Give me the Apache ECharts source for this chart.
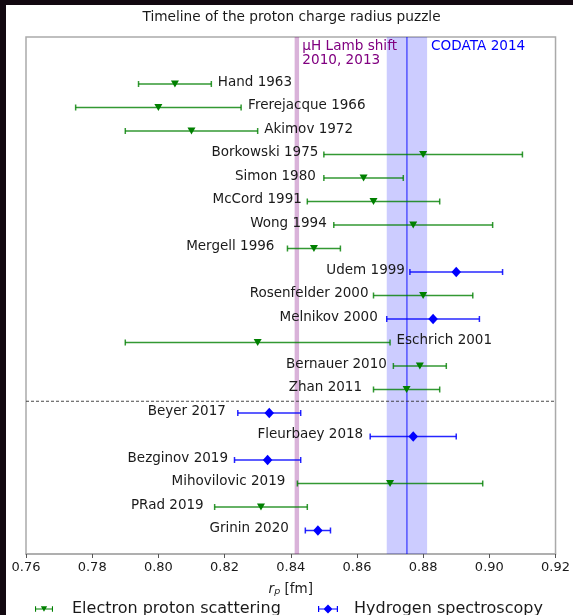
<!DOCTYPE html>
<html>
<head>
<meta charset="utf-8">
<script src="https://cdn.jsdelivr.net/npm/echarts@6/dist/echarts.min.js"></script>
<style>
  html, body { margin: 0; padding: 0; width: 573px; height: 615px; background: #120810; overflow: hidden; }
  #chart { position: absolute; left: 6px; top: 5px; width: 567px; height: 610px; }
</style>
</head>
<body>
<div id="chart"></div>
<script>
// ---- data (top to bottom) ----
const experiments = [
  'Hand 1963', 'Frerejacque 1966', 'Akimov 1972', 'Borkowski 1975', 'Simon 1980',
  'McCord 1991', 'Wong 1994', 'Mergell 1996', 'Udem 1999', 'Rosenfelder 2000',
  'Melnikov 2000', 'Eschrich 2001', 'Bernauer 2010', 'Zhan 2011', 'Beyer 2017',
  'Fleurbaey 2018', 'Bezginov 2019', 'Mihovilovic 2019', 'PRad 2019', 'Grinin 2020'
];
const radius = [
  0.805, 0.800, 0.810, 0.880, 0.862,
  0.865, 0.877, 0.847, 0.890, 0.880,
  0.883, 0.830, 0.879, 0.875, 0.8335,
  0.877, 0.833, 0.870, 0.831, 0.8482
];
const uncertainty = [
  0.011, 0.025, 0.020, 0.030, 0.012,
  0.020, 0.024, 0.008, 0.014, 0.015,
  0.014, 0.040, 0.008, 0.010, 0.0095,
  0.013, 0.010, 0.028, 0.014, 0.0038
];
const method = [
  'e', 'e', 'e', 'e', 'e',
  'e', 'e', 'e', 'h', 'e',
  'h', 'e', 'e', 'e', 'h',
  'h', 'h', 'e', 'e', 'h'
];
const seriesNames = { e: 'Electron proton scattering', h: 'Hydrogen spectroscopy' };
const muonic = { value: 0.84184, err: 0.00067, label: 'μH Lamb shift\n2010, 2013' };
const codata = { value: 0.8751, err: 0.0061, label: 'CODATA 2014' };
const dividerAfter = 'Zhan 2011';
const xTicks = { min: 0.76, max: 0.92, step: 0.02 };

// ---- label styling (not data) ----
const labelSide = [
  'right', 'right', 'right', 'left', 'left',
  'left', 'left', 'left', 'left', 'left',
  'left', 'right', 'left', 'left', 'left',
  'left', 'left', 'left', 'left', 'left'
];
const labelGap = [
  6.5, 7, 6.5, 5.5, 8,
  5.5, 7, 13, 5, 5,
  9, 6.5, 6.5, 11.5, 12,
  7, 6.5, 12, 11, 16.5
];

const N = experiments.length;
const rowOf = i => N - 1 - i;
const dividerRow = rowOf(experiments.indexOf(dividerAfter)) - 0.5;

const colors = { e: '#008000', h: '#0000ff' };
const barColors = { e: 'rgba(0,128,0,0.8)', h: 'rgba(0,0,255,0.85)' };
const TRI = 'path://M0,0L10,0L5,9Z';
const DIA = 'path://M5,0L10,5L5,10L0,5Z';
const FONT = 'DejaVu Sans';

function groupData(m) {
  const out = [];
  for (let i = 0; i < N; i++) if (method[i] === m) out.push([radius[i], rowOf(i), uncertainty[i], i]);
  return out;
}

function errRender(m) {
  return function (params, api) {
    const v = api.value(0), r = api.value(1), e = api.value(2), i = api.value(3);
    const pL = api.coord([v - e, r]);
    const pR = api.coord([v + e, r]);
    const cap = 3;
    const st = { stroke: barColors[m], lineWidth: 1.5 };
    const side = labelSide[i];
    const tx = side === 'left' ? pL[0] - labelGap[i] : pR[0] + labelGap[i];
    return {
      type: 'group',
      children: [
        { type: 'line', shape: { x1: pL[0], y1: pL[1], x2: pR[0], y2: pR[1] }, style: st },
        { type: 'line', shape: { x1: pL[0], y1: pL[1] - cap, x2: pL[0], y2: pL[1] + cap }, style: st },
        { type: 'line', shape: { x1: pR[0], y1: pR[1] - cap, x2: pR[0], y2: pR[1] + cap }, style: st },
        { type: 'text', x: tx, y: pL[1] - 2, style: {
            text: experiments[i], fill: '#1a1a1a', font: '13.5px "' + FONT + '"',
            align: side === 'left' ? 'right' : 'left', verticalAlign: 'middle' } }
      ]
    };
  };
}

const chart = echarts.init(document.getElementById('chart'), null, { renderer: 'canvas' });

const series = [];

// reference bands, CODATA line, divider, annotations
series.push({
  name: 'references', type: 'custom', silent: true, z: 1, clip: false,
  data: [[muonic.value, muonic.err, 0], [codata.value, codata.err, 1], [xTicks.min, dividerRow, 2]],
  encode: { x: 0 },
  renderItem: function (params, api) {
    const cs = params.coordSys;
    const k = api.value(2);
    if (k === 2) {
      const y = api.coord([xTicks.min, api.value(1)])[1];
      return { type: 'line', shape: { x1: cs.x, y1: y, x2: cs.x + cs.width, y2: y },
        style: { stroke: '#333', lineWidth: 0.9, lineDash: [3, 2] } };
    }
    const v = api.value(0), e = api.value(1);
    const x0 = api.coord([v - e, 0])[0], x1 = api.coord([v + e, 0])[0], xc = api.coord([v, 0])[0];
    const children = [
      { type: 'rect', shape: { x: x0, y: cs.y, width: x1 - x0, height: cs.height },
        style: { fill: k === 0 ? 'rgba(128,0,128,0.3)' : 'rgba(0,0,255,0.2)' } }
    ];
    if (k === 1) {
      children.push({ type: 'line', shape: { x1: xc, y1: cs.y, x2: xc, y2: cs.y + cs.height },
        style: { stroke: 'rgba(0,0,255,0.75)', lineWidth: 1.2 } });
    }
    children.push({ type: 'text', z2: 50, x: x1 + (k === 0 ? 3.3 : 4), y: cs.y + 2, style: {
      text: k === 0 ? muonic.label : codata.label, fill: k === 0 ? '#800080' : '#0000ff',
      font: '13.6px "' + FONT + '"', align: 'left', verticalAlign: 'top', lineHeight: 14 } });
    return { type: 'group', children: children };
  }
});

['e', 'h'].forEach(m => {
  series.push({
    name: seriesNames[m], type: 'custom', renderItem: errRender(m),
    data: groupData(m), encode: { x: 0, y: 1 }, z: 3,
    itemStyle: { color: colors[m] }, silent: true, clip: false
  });
  series.push({
    name: seriesNames[m], type: 'scatter', data: groupData(m).map(d => [d[0], d[1]]),
    symbol: m === 'e' ? TRI : DIA, symbolSize: m === 'e' ? [8, 7] : [9.5, 10.5],
    itemStyle: { color: colors[m], opacity: 1 }, z: 4, silent: true
  });
});

const legendIconE = 'path://M0,2L1.2,2L1.2,8L0,8ZM18.8,2L20,2L20,8L18.8,8ZM0,4.4L20,4.4L20,5.6L0,5.6ZM6.5,2L13.5,2L10,8Z';
const legendIconH = 'path://M0,2L1.2,2L1.2,8L0,8ZM18.8,2L20,2L20,8L18.8,8ZM0,4.4L20,4.4L20,5.6L0,5.6ZM10,0.5L14.5,5L10,9.5L5.5,5Z';

chart.setOption({
  backgroundColor: '#ffffff',
  animation: false,
  graphic: [
    { type: 'text', x: 285.5, y: 12.5, style: { text: 'Timeline of the proton charge radius puzzle',
      fill: '#1a1a1a', font: '13.7px "' + FONT + '"', align: 'center', verticalAlign: 'middle' } }
  ],
  grid: { left: 20, right: 16, top: 32, bottom: 61, show: true, borderColor: '#aaaaaa', borderWidth: 1.5, backgroundColor: 'transparent' },
  xAxis: {
    type: 'value', min: xTicks.min, max: xTicks.max, interval: xTicks.step,
    axisLine: { show: true, onZero: false, lineStyle: { color: '#aaaaaa', width: 1.5 } },
    axisTick: { show: true, length: 4, lineStyle: { color: '#555', width: 1 } },
    axisLabel: { color: '#1a1a1a', fontFamily: FONT, fontSize: 13, margin: 7, formatter: v => v.toFixed(2) },
    splitLine: { show: false },
    name: '{i|r}{s|p} [fm]', nameLocation: 'middle', nameGap: 27,
    nameTextStyle: {
      color: '#1a1a1a', fontFamily: FONT, fontSize: 13.5,
      rich: {
        i: { fontStyle: 'italic', fontFamily: FONT, fontSize: 13.5, color: '#1a1a1a' },
        s: { fontStyle: 'italic', fontFamily: FONT, fontSize: 9.5, color: '#1a1a1a', verticalAlign: 'bottom', padding: [6, 0, 0, 0] }
      }
    }
  },
  yAxis: { type: 'value', min: -1, max: 21, show: false, splitLine: { show: false } },
  legend: [
    { left: 24, top: 591, itemWidth: 18, itemHeight: 9, selectedMode: false,
      textStyle: { fontFamily: FONT, fontSize: 16, color: '#1a1a1a', padding: [0, 0, 0, 14] },
      data: [{ name: seriesNames.e, icon: legendIconE, itemStyle: { color: '#008000' } }] },
    { left: 307, top: 591, itemWidth: 20, itemHeight: 10, selectedMode: false,
      textStyle: { fontFamily: FONT, fontSize: 16, color: '#1a1a1a', padding: [0, 0, 0, 11] },
      data: [{ name: seriesNames.h, icon: legendIconH, itemStyle: { color: '#0000ff' } }] }
  ],
  series: series
});
</script>
</body>
</html>
